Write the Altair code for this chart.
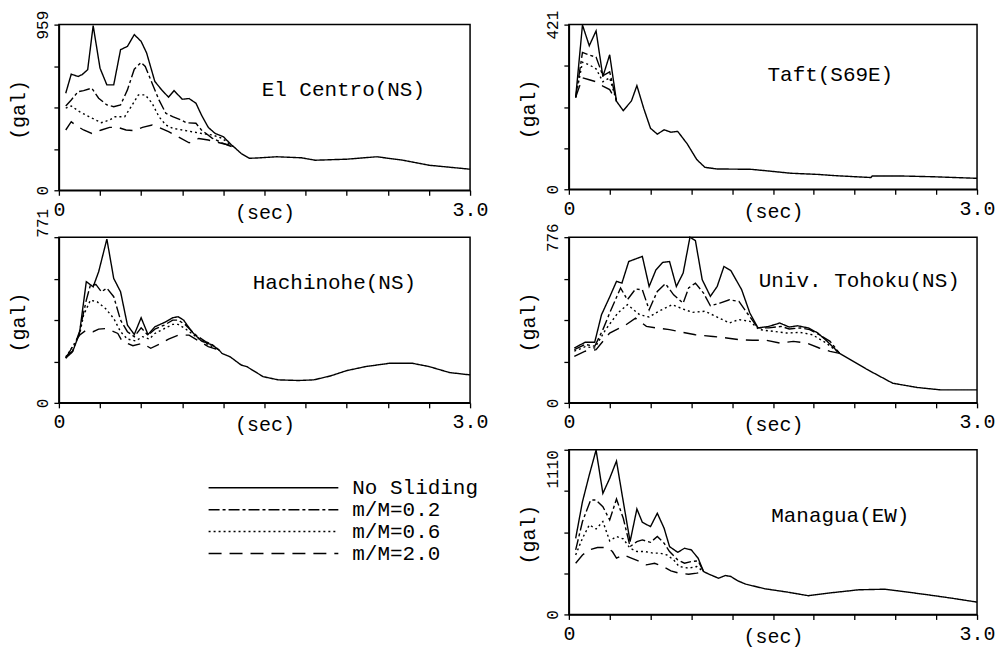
import altair as alt
import pandas as pd

SERIES = ["No Sliding", "m/M=0.2", "m/M=0.6", "m/M=2.0"]
DASHES = [[1, 0], [11, 3, 3, 3], [2, 3], [13, 8]]
FONT = "Liberation Mono"

# ---------------- El Centro (NS) ----------------
EC_NAME = "El Centro(NS)"
EC_MAX = 959
EC_NS_T = [0.05, 0.09, 0.14, 0.17, 0.21, 0.25, 0.30, 0.35, 0.40, 0.45, 0.50, 0.55, 0.60, 0.64, 0.70, 0.75, 0.80, 0.84, 0.90, 0.95, 1.00, 1.04, 1.09, 1.14, 1.20, 1.26, 1.28, 1.33, 1.39, 1.47, 1.59, 1.77, 1.87, 2.10, 2.32, 2.51, 2.70, 3.00]
EC_NS_A = [562, 672, 659, 670, 698, 953, 707, 610, 610, 814, 833, 901, 862, 795, 630, 581, 539, 577, 527, 531, 504, 436, 364, 329, 310, 262, 249, 213, 185, 188, 194, 188, 174, 180, 194, 174, 145, 122]
EC_02_T = [0.05, 0.09, 0.14, 0.18, 0.24, 0.29, 0.35, 0.40, 0.45, 0.50, 0.55, 0.60, 0.63, 0.68, 0.73, 0.78, 0.83, 0.89, 0.93, 1.00, 1.04, 1.12, 1.19, 1.24, 1.28]
EC_02_A = [488, 523, 571, 577, 591, 533, 494, 484, 494, 581, 701, 740, 717, 620, 523, 446, 426, 407, 391, 388, 349, 301, 275, 258, 249]
EC_06_T = [0.05, 0.09, 0.15, 0.22, 0.31, 0.37, 0.41, 0.48, 0.52, 0.58, 0.63, 0.68, 0.73, 0.78, 0.83, 0.90, 0.97, 1.04, 1.12, 1.19, 1.24, 1.28]
EC_06_A = [475, 488, 455, 426, 391, 407, 426, 426, 475, 552, 552, 504, 426, 378, 359, 349, 339, 329, 320, 301, 271, 249]
EC_20_T = [0.05, 0.09, 0.12, 0.18, 0.24, 0.31, 0.37, 0.43, 0.49, 0.55, 0.61, 0.68, 0.73, 0.80, 0.87, 0.95, 1.02, 1.09, 1.17, 1.24, 1.28]
EC_20_A = [349, 397, 378, 349, 329, 349, 364, 364, 349, 345, 364, 378, 364, 339, 310, 275, 300, 291, 275, 262, 249]

# ---------------- Taft (S69E) ----------------
TA_NAME = "Taft(S69E)"
TA_MAX = 421
TA_NS_T = [0.05, 0.10, 0.15, 0.20, 0.25, 0.30, 0.35, 0.40, 0.46, 0.50, 0.55, 0.60, 0.65, 0.70, 0.75, 0.80, 0.87, 0.94, 1.00, 1.09, 1.34, 1.46, 1.63, 1.83, 1.95, 2.22, 2.23, 2.44, 2.68, 3.00]
TA_NS_A = [235, 420, 367, 405, 288, 344, 225, 201, 226, 265, 207, 156, 141, 152, 146, 148, 116, 76, 56, 52, 51, 47, 41, 38, 35, 30, 34, 34, 32, 28]
TA_02_T = [0.05, 0.10, 0.15, 0.20, 0.25, 0.30, 0.35]
TA_02_A = [235, 350, 343, 338, 290, 300, 225]
TA_06_T = [0.05, 0.10, 0.15, 0.20, 0.25, 0.30, 0.35]
TA_06_A = [235, 325, 318, 308, 275, 285, 225]
TA_20_T = [0.05, 0.10, 0.15, 0.20, 0.25, 0.30, 0.35]
TA_20_A = [235, 285, 280, 275, 264, 255, 225]

# ---------------- Hachinohe (NS) ----------------
HA_NAME = "Hachinohe(NS)"
HA_MAX = 771
HA_NS_T = [0.05, 0.10, 0.15, 0.20, 0.25, 0.29, 0.35, 0.40, 0.45, 0.50, 0.55, 0.60, 0.65, 0.70, 0.77, 0.83, 0.87, 0.91, 0.97, 1.04, 1.12, 1.17, 1.19, 1.25, 1.33, 1.37, 1.49, 1.60, 1.75, 1.86, 1.98, 2.10, 2.24, 2.41, 2.58, 2.70, 2.85, 3.00]
HA_NS_A = [208, 238, 323, 564, 540, 610, 762, 579, 517, 362, 318, 396, 318, 354, 374, 396, 401, 385, 331, 288, 269, 245, 230, 214, 176, 169, 122, 107, 104, 107, 125, 150, 169, 184, 184, 169, 141, 130]
HA_02_T = [0.05, 0.10, 0.15, 0.20, 0.23, 0.27, 0.31, 0.35, 0.40, 0.45, 0.50, 0.55, 0.60, 0.65, 0.70, 0.77, 0.83, 0.87, 0.92, 1.00, 1.07, 1.12, 1.17]
HA_02_A = [215, 241, 331, 478, 548, 551, 517, 534, 494, 385, 331, 308, 349, 315, 343, 362, 385, 385, 365, 315, 285, 270, 245]
HA_06_T = [0.05, 0.15, 0.18, 0.23, 0.28, 0.34, 0.40, 0.45, 0.50, 0.56, 0.61, 0.66, 0.70, 0.77, 0.83, 0.87, 0.92, 1.00, 1.07, 1.12, 1.17]
HA_06_A = [211, 315, 408, 478, 470, 439, 393, 331, 297, 288, 308, 297, 323, 346, 365, 365, 346, 308, 277, 262, 245]
HA_20_T = [0.05, 0.15, 0.20, 0.25, 0.29, 0.35, 0.43, 0.46, 0.54, 0.61, 0.67, 0.73, 0.80, 0.87, 0.95, 1.02, 1.09, 1.17]
HA_20_A = [208, 315, 339, 331, 343, 346, 323, 288, 266, 277, 254, 272, 297, 315, 315, 288, 262, 245]

# ---------------- Univ. Tohoku (NS) ----------------
TO_NAME = "Univ. Tohoku(NS)"
TO_MAX = 776
TO_NS_T = [0.04, 0.12, 0.19, 0.24, 0.30, 0.35, 0.39, 0.44, 0.54, 0.59, 0.64, 0.69, 0.74, 0.79, 0.84, 0.89, 0.93, 0.98, 1.04, 1.09, 1.14, 1.19, 1.27, 1.33, 1.39, 1.47, 1.55, 1.62, 1.68, 1.76, 1.83, 1.89, 1.99, 2.19, 2.38, 2.56, 2.73, 3.00]
TO_NS_A = [257, 284, 284, 413, 496, 569, 561, 662, 686, 545, 623, 658, 662, 545, 608, 776, 760, 577, 499, 545, 639, 620, 530, 421, 351, 358, 374, 355, 361, 351, 327, 293, 232, 157, 92, 72, 61, 61]
TO_02_T = [0.04, 0.12, 0.19, 0.25, 0.30, 0.38, 0.43, 0.49, 0.54, 0.59, 0.65, 0.71, 0.77, 0.84, 0.88, 0.93, 0.99, 1.04, 1.11, 1.18, 1.25, 1.31, 1.39, 1.47, 1.56, 1.62, 1.70, 1.77, 1.84, 1.92, 1.99]
TO_02_A = [249, 274, 265, 343, 421, 538, 483, 533, 530, 436, 522, 558, 506, 467, 538, 561, 514, 455, 467, 483, 475, 421, 351, 351, 358, 346, 351, 343, 319, 288, 232]
TO_06_T = [0.04, 0.12, 0.19, 0.27, 0.36, 0.43, 0.52, 0.59, 0.66, 0.76, 0.84, 0.91, 1.00, 1.08, 1.18, 1.25, 1.33, 1.40, 1.50, 1.60, 1.70, 1.79, 1.89, 1.99]
TO_06_A = [242, 263, 257, 343, 421, 460, 413, 402, 429, 460, 439, 424, 429, 405, 374, 390, 382, 343, 335, 327, 330, 319, 281, 232]
TO_20_T = [0.04, 0.12, 0.20, 0.30, 0.42, 0.49, 0.57, 0.64, 0.74, 0.84, 0.93, 1.06, 1.16, 1.25, 1.35, 1.45, 1.55, 1.65, 1.75, 1.84, 1.92, 1.99]
TO_20_A = [218, 242, 249, 327, 366, 397, 358, 351, 343, 330, 319, 311, 304, 296, 293, 293, 280, 288, 280, 257, 241, 232]

# ---------------- Managua (EW) ----------------
MA_NAME = "Managua(EW)"
MA_MAX = 1110
MA_NS_T = [0.05, 0.10, 0.15, 0.20, 0.25, 0.30, 0.35, 0.40, 0.45, 0.50, 0.54, 0.60, 0.65, 0.70, 0.74, 0.80, 0.85, 0.90, 0.95, 0.99, 1.03, 1.10, 1.15, 1.19, 1.24, 1.30, 1.44, 1.61, 1.76, 1.90, 2.13, 2.32, 2.42, 2.64, 2.81, 3.00]
MA_NS_A = [513, 760, 940, 1108, 816, 917, 1034, 760, 491, 711, 621, 592, 682, 581, 457, 419, 446, 435, 379, 289, 271, 244, 262, 256, 227, 204, 173, 150, 126, 143, 166, 170, 159, 132, 110, 83]
MA_02_T = [0.05, 0.10, 0.16, 0.20, 0.25, 0.30, 0.35, 0.40, 0.45, 0.50, 0.54, 0.60, 0.65, 0.70, 0.74, 0.80, 0.85, 0.90, 0.95, 0.99]
MA_02_A = [435, 626, 771, 771, 726, 637, 778, 648, 457, 491, 502, 486, 525, 480, 424, 368, 345, 357, 361, 289]
MA_06_T = [0.05, 0.10, 0.15, 0.20, 0.25, 0.30, 0.35, 0.40, 0.45, 0.50, 0.56, 0.62, 0.67, 0.72, 0.77, 0.81, 0.88, 0.94, 0.99]
MA_06_A = [401, 513, 603, 576, 626, 496, 525, 509, 446, 424, 424, 413, 413, 401, 368, 323, 312, 323, 289]
MA_20_T = [0.05, 0.10, 0.15, 0.21, 0.28, 0.32, 0.35, 0.40, 0.45, 0.51, 0.57, 0.63, 0.69, 0.75, 0.81, 0.88, 0.94, 0.99]
MA_20_A = [345, 401, 435, 451, 451, 424, 379, 401, 383, 361, 334, 345, 323, 294, 278, 271, 278, 289]

X_TICKS = [0.0, 0.3, 0.6, 0.9, 1.2, 1.5, 1.8, 2.1, 2.4, 2.7, 3.0]


def make_df(pairs):
    rows = []
    for name, (ts, vs) in zip(SERIES, pairs):
        for t, v in zip(ts, vs):
            rows.append({"t": t, "a": v, "series": name})
    return pd.DataFrame(rows)


def panel(title, ymax, pairs, w, h, label_pos, top_align):
    df = make_df(pairs)
    yticks = [0, ymax / 4, ymax / 2, 3 * ymax / 4, ymax]
    yaxis = alt.Axis(
        values=yticks,
        labelExpr=f"datum.value == 0 ? '0' : (datum.value >= {ymax} ? '{ymax}' : '')",
        labelAngle=270,
        labelAlign={"condition": {"test": "datum.value > 0", "value": top_align}, "value": "center"},
        labelBaseline="alphabetic",
        labelPadding=6,
        labelFontSize=16,
        tickSize=5,
        title="(gal)",
        titleAngle=270,
        titleX=-34,
        titleY=h / 2 + 2,
        titleBaseline="alphabetic",
        titleAlign="center",
        titleFontSize=20,
    )
    xaxis = alt.Axis(
        values=X_TICKS,
        labelExpr="datum.value == 0 ? '0' : (datum.value > 2.9 ? '3.0' : '')",
        labelAngle=0,
        labelAlign="center",
        labelBaseline="alphabetic",
        labelPadding=20,
        labelFontSize=20,
        tickSize=5,
        title="(sec)",
        titleY=28,
        titleBaseline="alphabetic",
        titleFontSize=20,
    )
    lines = alt.Chart(df).mark_line(color="black", strokeWidth=1.4).encode(
        x=alt.X("t:Q", scale=alt.Scale(domain=[0, 3], nice=False), axis=xaxis),
        y=alt.Y("a:Q", scale=alt.Scale(domain=[0, ymax], nice=False), axis=yaxis),
        strokeDash=alt.StrokeDash(
            "series:N",
            scale=alt.Scale(domain=SERIES, range=DASHES),
            legend=None,
        ),
    )
    label = alt.Chart(pd.DataFrame({"name": [title]})).mark_text(
        font=FONT, fontSize=21, color="black", align="center", baseline="middle"
    ).encode(text="name:N", x=alt.value(label_pos[0]), y=alt.value(label_pos[1]))
    return alt.layer(lines, label).properties(width=w, height=h)


legend = alt.Legend(
    title=None,
    orient="none",
    legendX=204,
    legendY=27,
    symbolType="M-6.5,0H6.5",
    symbolSize=400,
    symbolStrokeWidth=1.5,
    symbolStrokeColor="black",
    labelFont=FONT,
    labelFontSize=21,
    labelColor="black",
    labelOffset=68,
    rowPadding=1,
    padding=0,
)

# legend-only cell (empty lower-left slot of the figure)
leg = alt.Chart(pd.DataFrame({"series": SERIES})).mark_line(color="black", opacity=0).encode(
    x=alt.value(0),
    y=alt.value(0),
    strokeDash=alt.StrokeDash("series:N", scale=alt.Scale(domain=SERIES, range=DASHES), legend=legend),
).properties(width=412, height=166, view=alt.ViewBackground(stroke="transparent"))

ec = panel(EC_NAME, EC_MAX, [(EC_NS_T, EC_NS_A), (EC_02_T, EC_02_A), (EC_06_T, EC_06_A), (EC_20_T, EC_20_A)],
           412, 166, (285, 66), "center")
ha = panel(HA_NAME, HA_MAX, [(HA_NS_T, HA_NS_A), (HA_02_T, HA_02_A), (HA_06_T, HA_06_A), (HA_20_T, HA_20_A)],
           412, 166, (276, 46), "left")
ta = panel(TA_NAME, TA_MAX, [(TA_NS_T, TA_NS_A), (TA_02_T, TA_02_A), (TA_06_T, TA_06_A), (TA_20_T, TA_20_A)],
           409, 165, (262, 50), "center")
to = panel(TO_NAME, TO_MAX, [(TO_NS_T, TO_NS_A), (TO_02_T, TO_02_A), (TO_06_T, TO_06_A), (TO_20_T, TO_20_A)],
           409, 166, (291, 44), "center")
ma = panel(MA_NAME, MA_MAX, [(MA_NS_T, MA_NS_A), (MA_02_T, MA_02_A), (MA_06_T, MA_06_A), (MA_20_T, MA_20_A)],
           409, 165, (272, 66), "right")

chart = alt.concat(
    ec, ta, ha, to, leg, ma,
    columns=2,
    spacing={"row": 47, "column": 99},
    bounds="flush",
).resolve_legend(
    strokeDash="independent"
).resolve_scale(
    x="independent", y="independent", strokeDash="independent"
).properties(padding=0).configure(
    font=FONT
).configure_view(
    stroke="black", strokeWidth=1.5
).configure_axis(
    grid=False,
    domainColor="black",
    domainWidth=1.5,
    tickColor="black",
    tickWidth=1.3,
    labelColor="black",
    titleColor="black",
    labelFont=FONT,
    titleFont=FONT,
    titleFontWeight="normal",
    labelOverlap=False,
    labelBound=False,
    labelFlush=False,
)

chart.save("out.html", embed_options={"renderer": "svg", "actions": False})
